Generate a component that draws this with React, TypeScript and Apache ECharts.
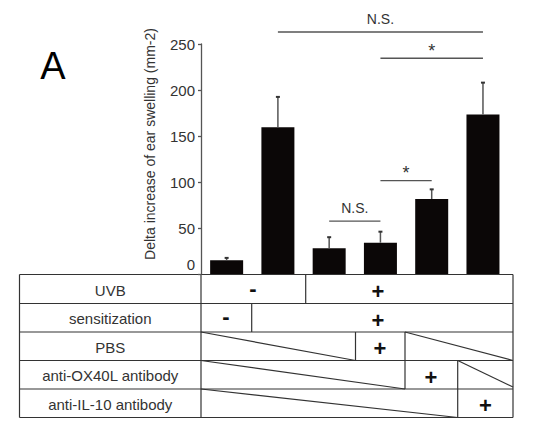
import React, { useEffect, useRef } from "react";
import * as echarts from "echarts";

// ---- data ----
const categories = ["g1", "g2", "g3", "g4", "g5", "g6"];
const meanValues = [15, 159.5, 28, 34, 81.5, 173.5];
const errorValues = [2.5, 33, 12, 12, 10.5, 34.5];
const yMin = 0;
const yMax = 250;
const yStep = 50;
const sigFrom = [1, 3, 2, 3];
const sigTo = [5, 5, 3, 4];
const sigLevel = [263, 234.5, 57.5, 101.5];
const sigLabels = ["N.S.", "*", "N.S.", "*"];
const rowLabels = ["UVB", "sensitization", "PBS", "anti-OX40L antibody", "anti-IL-10 antibody"];
const yTitle = "Delta increase of ear swelling (mm-2)";
const panelLetter = "A";

const FONT = '"Liberation Sans", Arial, sans-serif';
const LINE = "#333";

// table layout (pixels)
const TL = 19.5;
const TA = 201;
const TR = 513;
const RY = [274.5, 303.5, 332, 360.5, 389, 417.5];

function tableGraphics(): any[] {
  const els: any[] = [];
  const ln = (x1: number, y1: number, x2: number, y2: number) =>
    els.push({
      type: "line",
      silent: true,
      shape: { x1, y1, x2, y2 },
      style: { stroke: LINE, lineWidth: 1.2 },
    });
  // horizontal borders
  RY.forEach((y) => ln(TL, y, TR, y));
  // outer verticals
  ln(TL, RY[0], TL, RY[5]);
  ln(TA, RY[0], TA, RY[5]);
  ln(TR, RY[0], TR, RY[5]);
  // row 1 UVB
  ln(305.7, RY[0], 305.7, RY[1]);
  // row 2 sensitization
  ln(251.7, RY[1], 251.7, RY[2]);
  // row 3 PBS
  ln(TA, RY[2], 355.5, RY[3]);
  ln(355.5, RY[2], 355.5, RY[3]);
  ln(405, RY[2], 405, RY[3]);
  ln(405, RY[2], TR, RY[3]);
  // row 4 anti-OX40L
  ln(TA, RY[3], 405, RY[4]);
  ln(405, RY[3], 405, RY[4]);
  ln(457.7, RY[3], 457.7, RY[4]);
  ln(457.7, RY[3], TR, RY[4] - 2);
  // row 5 anti-IL-10
  ln(TA, RY[4], 457.7, RY[5]);
  ln(457.7, RY[4], 457.7, RY[5]);

  // row labels
  rowLabels.forEach((t, i) => {
    els.push({
      type: "text",
      silent: true,
      x: (TL + TA) / 2,
      y: (RY[i] + RY[i + 1]) / 2 + 1,
      style: {
        text: t,
        fontSize: 15,
        fontFamily: FONT,
        fill: "#333",
        align: "center",
        verticalAlign: "middle",
        textAlign: "center",
        textVerticalAlign: "middle",
      },
    });
  });

  const sign = (t: string, x: number, row: number) => {
    const mid = (RY[row] + RY[row + 1]) / 2;
    els.push({
      type: "text",
      silent: true,
      x,
      y: t === "+" ? mid + 2.5 : mid - 1,
      style: {
        text: t,
        fontSize: 22,
        fontWeight: "bold",
        fontFamily: FONT,
        fill: "#111",
        align: "center",
        verticalAlign: "middle",
        textAlign: "center",
        textVerticalAlign: "middle",
      },
    });
  };
  sign("-", 253, 0);
  sign("+", 378, 0);
  sign("-", 226, 1);
  sign("+", 378, 1);
  sign("+", 380, 2);
  sign("+", 431, 3);
  sign("+", 485.5, 4);

  // y title
  els.push({
    type: "text",
    silent: true,
    x: 150,
    y: 144,
    rotation: Math.PI / 2,
    style: {
      text: yTitle,
      fontSize: 14,
      fontFamily: FONT,
      fill: "#333",
      align: "center",
      verticalAlign: "middle",
      textAlign: "center",
      textVerticalAlign: "middle",
    },
  });
  // panel letter
  els.push({
    type: "text",
    silent: true,
    x: 53,
    y: 66,
    style: {
      text: panelLetter,
      fontSize: 38,
      fontFamily: FONT,
      fill: "#000",
      align: "center",
      verticalAlign: "middle",
      textAlign: "center",
      textVerticalAlign: "middle",
    },
  });
  return els;
}

export default function App() {
  const ref = useRef<HTMLDivElement>(null);
  useEffect(() => {
    if (!ref.current) return;
    const chart = echarts.init(ref.current, undefined, { renderer: "svg" });
    const errData = meanValues.map((v, i) => [i, v, errorValues[i]]);
    const sigData = sigFrom.map((f, i) => [f, sigTo[i], sigLevel[i], i]);
    chart.setOption({
      animation: false,
      backgroundColor: "#fff",
      grid: { left: 201, right: 34.4, top: 44, bottom: 151, containLabel: false },
      xAxis: {
        type: "category",
        data: categories,
        axisLine: { show: false },
        axisTick: { show: false },
        axisLabel: { show: false },
        splitLine: { show: false },
      },
      yAxis: {
        type: "value",
        min: yMin,
        max: yMax,
        interval: yStep,
        axisLine: { show: true, lineStyle: { color: "#555", width: 1.3 } },
        axisTick: { show: true, length: 3, lineStyle: { color: "#555", width: 1.3 } },
        axisLabel: {
          fontSize: 15,
          color: "#333",
          fontFamily: FONT,
          margin: 6,
          formatter: (v: number) => (v === yMin ? "{zero|" + v + "}" : String(v)),
          rich: {
            zero: {
              fontSize: 15,
              color: "#333",
              fontFamily: FONT,
              padding: [0, 0, 20, 0],
            },
          },
        },
        splitLine: { show: false },
      },
      series: [
        {
          type: "bar",
          data: meanValues,
          barWidth: 33,
          itemStyle: { color: "#0b0707" },
          z: 2,
        },
        {
          type: "custom",
          data: errData,
          encode: { x: 0, y: 1 },
          z: 3,
          renderItem: (params: any, api: any) => {
            const x = api.value(0);
            const v = api.value(1);
            const e = api.value(2);
            const top = api.coord([x, v + e]);
            const base = api.coord([x, v]);
            return {
              type: "group",
              children: [
                {
                  type: "line",
                  shape: { x1: top[0], y1: top[1], x2: base[0], y2: base[1] },
                  style: { stroke: "#555", lineWidth: 1.5 },
                },
                {
                  type: "line",
                  shape: { x1: top[0] - 2, y1: top[1], x2: top[0] + 2, y2: top[1] },
                  style: { stroke: "#333", lineWidth: 2 },
                },
              ],
            };
          },
        },
        {
          type: "custom",
          data: sigData,
          encode: { x: [0, 1], y: 2 },
          clip: false,
          z: 4,
          renderItem: (params: any, api: any) => {
            const a = api.coord([api.value(0), api.value(2)]);
            const b = api.coord([api.value(1), api.value(2)]);
            const label = sigLabels[api.value(3)];
            const star = label === "*";
            return {
              type: "group",
              children: [
                {
                  type: "line",
                  shape: { x1: a[0], y1: a[1], x2: b[0], y2: b[1] },
                  style: { stroke: "#555", lineWidth: 1.4 },
                },
                {
                  type: "text",
                  x: (a[0] + b[0]) / 2,
                  y: a[1] - (star ? 7.5 : 13),
                  style: {
                    text: label,
                    fontSize: star ? 18 : 14,
                    fontFamily: FONT,
                    fill: "#333",
                    align: "center",
                    verticalAlign: "middle",
                    textAlign: "center",
                    textVerticalAlign: "middle",
                  },
                },
              ],
            };
          },
        },
      ],
      graphic: { elements: tableGraphics() },
    });
    return () => chart.dispose();
  }, []);
  return (
    <div
      ref={ref}
      style={{ position: "fixed", left: 0, top: 0, width: 543, height: 425, background: "#fff" }}
    />
  );
}
